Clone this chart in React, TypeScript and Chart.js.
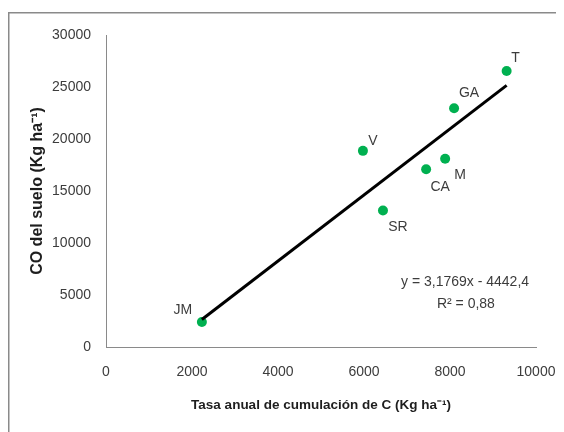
import React, { useEffect, useRef } from "react";
import { Chart, registerables } from "chart.js";

Chart.register(...registerables);

// Sites and their measurements
const siteNames = ["JM", "V", "SR", "CA", "M", "GA", "T"];
const accumulationRate = [2230, 5975, 6441, 7445, 7887, 8095, 9317]; // Kg ha-1 per year
const soilCarbon = [2400, 18860, 13128, 17094, 18093, 22952, 26544]; // Kg ha-1

// Linear fit reported on the chart
const slope = 3.1769;
const intercept = -4442.4;
const equationText = "y = 3,1769x - 4442,4";
const r2Text = "R² = 0,88";

const xTicks = { min: 0, max: 10000, step: 2000 };
const yTicks = { min: 0, max: 30000, step: 5000 };

// Label placement around each marker (pixels, relative to the marker centre)
const labelOffsets: [number, number][] = [
  [-19, -12],
  [10, -10],
  [15, 17],
  [14, 18],
  [15, 16],
  [15, -15],
  [9, -13],
];

const FONT = "'Liberation Sans', Arial, sans-serif";
const TEXT = "#3c3c3c";

export default function App() {
  const ref = useRef<HTMLCanvasElement | null>(null);

  useEffect(() => {
    if (!ref.current) return;
    const xMin = Math.min(...accumulationRate);
    const xMax = Math.max(...accumulationRate);
    const trend = [
      { x: xMin, y: slope * xMin + intercept },
      { x: xMax, y: slope * xMax + intercept },
    ];
    const points = accumulationRate.map((x, i) => ({ x, y: soilCarbon[i] }));

    const frame = {
      id: "frame",
      beforeDraw(chart: any) {
        const ctx = chart.ctx;
        ctx.save();
        ctx.fillStyle = "#ffffff";
        ctx.fillRect(0, 0, chart.width, chart.height);
        ctx.strokeStyle = "#8a8a8a";
        ctx.lineWidth = 1.5;
        ctx.strokeRect(0.75, 4.75, chart.width + 20, chart.height + 20);
        ctx.restore();
      },
    };

    const annotations = {
      id: "annotations",
      afterDatasetsDraw(chart: any) {
        const ctx = chart.ctx;
        const meta = chart.getDatasetMeta(1);
        ctx.save();
        ctx.fillStyle = TEXT;
        ctx.font = `14px ${FONT}`;
        ctx.textAlign = "center";
        ctx.textBaseline = "middle";
        meta.data.forEach((el: any, i: number) => {
          const [dx, dy] = labelOffsets[i];
          ctx.fillText(siteNames[i], el.x + dx, el.y + dy);
        });
        const xs = chart.scales.x;
        const ys = chart.scales.y;
        ctx.fillText(equationText, xs.getPixelForValue(8350), ys.getPixelForValue(6220));
        ctx.fillText(r2Text, xs.getPixelForValue(8370), ys.getPixelForValue(4100));
        ctx.restore();
      },
    };

    const chart = new Chart(ref.current, {
      type: "scatter",
      data: {
        datasets: [
          {
            type: "line",
            data: trend,
            borderColor: "#000000",
            borderWidth: 3,
            pointRadius: 0,
            fill: false,
          } as any,
          {
            type: "scatter",
            data: points,
            backgroundColor: "#00b050",
            borderWidth: 0,
            pointRadius: 5,
          },
        ],
      },
      options: {
        responsive: false,
        animation: false,
        layout: { padding: { left: 0, right: 28, top: 27, bottom: 0 } },
        plugins: {
          legend: { display: false },
          tooltip: { enabled: false },
        },
        scales: {
          x: {
            type: "linear",
            min: xTicks.min,
            max: xTicks.max,
            ticks: {
              stepSize: xTicks.step,
              padding: 0,
              color: TEXT,
              font: { family: FONT, size: 14 },
              callback: (v: any) => String(v),
            },
            grid: { display: false, drawTicks: true, tickLength: 17 },
            border: { display: true, color: "#8a8a8a", width: 1 },
            title: {
              display: true,
              text: "Tasa anual de cumulación de C (Kg ha⁻¹)",
              color: "#1e1e1e",
              font: { family: FONT, size: 13.5, weight: "bold" },
              padding: { top: 0, bottom: 19 },
            },
            afterFit(scale: any) {
              scale.height = 85;
            },
          },
          y: {
            type: "linear",
            min: yTicks.min,
            max: yTicks.max,
            ticks: {
              stepSize: yTicks.step,
              padding: 15,
              color: TEXT,
              font: { family: FONT, size: 14 },
              callback: (v: any) => String(v),
            },
            grid: { display: false, drawTicks: false },
            border: { display: true, color: "#8a8a8a", width: 1 },
            title: {
              display: true,
              text: "CO del suelo (Kg ha⁻¹)",
              color: "#1e1e1e",
              font: { family: FONT, size: 16, weight: "bold" },
              padding: { top: 20, bottom: 0 },
            },
            afterFit(scale: any) {
              scale.width = 98;
            },
          },
        },
      },
      plugins: [frame, annotations],
    });
    return () => chart.destroy();
  }, []);

  return <canvas ref={ref} width={556} height={424} style={{ display: "block" }} />;
}
